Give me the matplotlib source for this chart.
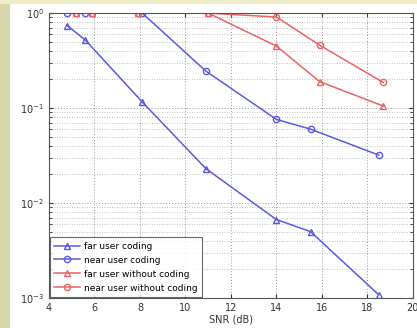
import numpy as np
import matplotlib
matplotlib.use('Agg')
import matplotlib.pyplot as plt
from matplotlib.patches import Rectangle
from matplotlib.ticker import LogLocator, NullFormatter

# SNR values (dB) and PER for each curve
snr_coded = [4.8, 5.6, 8.1, 10.9, 14.0, 15.5, 18.5]
far_coding = [0.74, 0.52, 0.116, 0.023, 0.0067, 0.005, 0.00108]
near_coding = [1.0, 1.0, 1.0, 0.245, 0.076, 0.06, 0.032]

snr_uncoded = [5.2, 5.9, 7.9, 11.0, 14.0, 15.9, 18.7]
far_uncoded = [1.0, 1.0, 1.0, 1.0, 0.45, 0.19, 0.105]
near_uncoded = [1.0, 1.0, 1.0, 1.0, 0.91, 0.46, 0.186]

x_ticks = [4, 6, 8, 10, 12, 14, 16, 18, 20]

blue = '#5a5ae0'
red = '#e86464'

fig = plt.figure(figsize=(4.17, 3.28), dpi=100)
fig.patch.set_facecolor('white')
# khaki frame on the left and top edges
fig.patches.append(Rectangle((0, 0), 10 / 417, 1, transform=fig.transFigure,
                             facecolor='#d8d6ab', edgecolor='none', zorder=0))
fig.patches.append(Rectangle((0, 1 - 4 / 328), 1, 4 / 328, transform=fig.transFigure,
                             facecolor='#efedc8', edgecolor='none', zorder=0))

ax = fig.add_axes([0.1175, 0.0915, 0.8725, 0.8685])

ax.plot(snr_coded, far_coding, '-^', color=blue, lw=1.1, ms=4.5, mfc='none', mew=1,
        label='far user coding')
ax.plot(snr_coded, near_coding, '-o', color=blue, lw=1.1, ms=4.5, mfc='none', mew=1,
        label='near user coding')
ax.plot(snr_uncoded, far_uncoded, '-^', color=red, lw=1.1, ms=4.5, mfc='none', mew=1,
        label='far user without coding')
ax.plot(snr_uncoded, near_uncoded, '-o', color=red, lw=1.1, ms=4.5, mfc='none', mew=1,
        label='near user without coding')

ax.set_yscale('log')
ax.set_xlim(4, 20)
ax.set_ylim(1e-3, 1)
ax.set_xticks(x_ticks)
ax.yaxis.set_minor_locator(LogLocator(base=10, subs=np.arange(2, 10)))
ax.yaxis.set_minor_formatter(NullFormatter())

ax.grid(True, which='major', linestyle=(0, (1, 2)), color='#999999', lw=0.7)
ax.grid(True, which='minor', axis='y', linestyle=(0, (1, 2)), color='#aaaaaa', lw=0.6)

ax.tick_params(which='both', direction='in', labelsize=7, colors='#333333',
               top=True, right=True)
ax.tick_params(which='minor', length=2)
ax.tick_params(which='major', length=3)
for s in ax.spines.values():
    s.set_color('#555555')
    s.set_linewidth(0.8)

ax.set_xlabel('SNR (dB)', fontsize=7, color='#333333', labelpad=1)
ax.set_ylabel('PER', fontsize=7, color='#333333', labelpad=6)

leg = ax.legend(loc='lower left', fontsize=6.5, frameon=True, fancybox=False,
                edgecolor='#444444', borderaxespad=0.1, handlelength=2.8,
                handletextpad=0.5, labelspacing=0.55, borderpad=0.5)
leg.get_frame().set_linewidth(0.8)

fig.savefig('out.png', dpi=100)
